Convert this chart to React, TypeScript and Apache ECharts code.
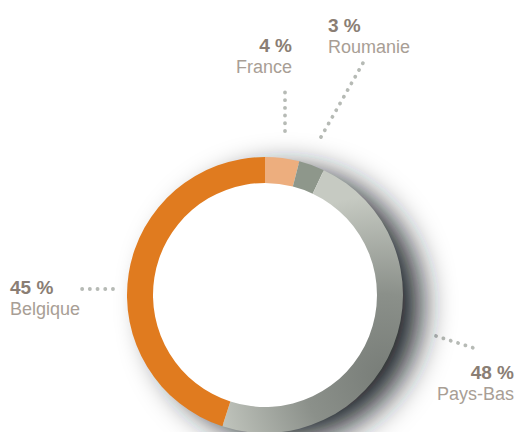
import React, { useEffect, useRef } from 'react';
import * as echarts from 'echarts';

// ---- data ----
const categories = ['France', 'Roumanie', 'Pays-Bas', 'Belgique'];
const shares = [4, 3, 48, 45];

// ---- layout (positions only) ----
const labelAnchors = [
  { x: 292, y: 56, align: 'right' },
  { x: 328, y: 36, align: 'left' },
  { x: 514, y: 383, align: 'right' },
  { x: 10, y: 298, align: 'left' },
];
const leaderLines = [
  [[285, 131], [285, 112], [285, 92]],
  [[321, 137], [342, 100], [363, 63]],
  [[436, 336], [458, 343], [480, 350]],
  [[113, 289], [95, 289], [76, 289]],
];

const CENTER = [265, 295];
const R_IN = 112;
const R_OUT = 138;

export default function App() {
  const ref = useRef<HTMLDivElement>(null);

  useEffect(() => {
    document.body.style.margin = '0';
    const chart = echarts.init(ref.current!, undefined, { renderer: 'svg' });

    const colors: any[] = [
      '#EDAE7E',
      '#8E978B',
      new echarts.graphic.RadialGradient(
        385,
        375,
        180,
        [
          { offset: 0, color: '#787d78' },
          { offset: 0.45, color: '#8b908a' },
          { offset: 1, color: '#c6cac2' },
        ],
        true
      ),
      '#E07B1F',
    ];

    chart.setOption({
      animation: false,
      backgroundColor: '#ffffff',
      series: [
        {
          type: 'pie',
          silent: true,
          center: CENTER,
          radius: [0, R_OUT - 3],
          label: { show: false },
          labelLine: { show: false },
          data: [{ value: 1, name: 'bg' }],
          itemStyle: {
            color: '#ffffff',
            shadowColor: 'rgba(30,32,38,1)',
            shadowBlur: 32,
            shadowOffsetX: 21,
            shadowOffsetY: 10,
          },
        },
        {
          type: 'pie',
          silent: true,
          center: CENTER,
          radius: [R_IN, R_OUT],
          startAngle: 90,
          clockwise: true,
          avoidLabelOverlap: false,
          data: categories.map((name, i) => ({
            name,
            value: shares[i],
            itemStyle: { color: colors[i] },
          })),
          label: {
            show: true,
            position: 'outside',
            formatter: (p: any) => `{v|${p.value} %}\n{n|${p.name}}`,
            rich: {
              v: {
                fontFamily: 'Liberation Sans, Arial, sans-serif',
                fontWeight: 'bold',
                fontSize: 19,
                lineHeight: 22,
                color: '#8a7e74',
              },
              n: {
                fontFamily: 'Liberation Sans, Arial, sans-serif',
                fontSize: 18,
                lineHeight: 22,
                color: '#a89e95',
              },
            },
          },
          labelLine: {
            show: true,
            smooth: false,
            length: 10,
            length2: 10,
            lineStyle: {
              color: '#b6bab5',
              width: 3.8,
              type: [0.1, 7.6],
              cap: 'round',
            },
          },
          labelLayout: (params: any) => {
            const i = params.dataIndex;
            const a = labelAnchors[i];
            return {
              x: a.x,
              y: a.y,
              align: a.align,
              verticalAlign: 'middle',
              labelLinePoints: leaderLines[i],
            };
          },
        },
      ],
    });

    return () => chart.dispose();
  }, []);

  return <div ref={ref} style={{ width: 516, height: 432 }} />;
}
